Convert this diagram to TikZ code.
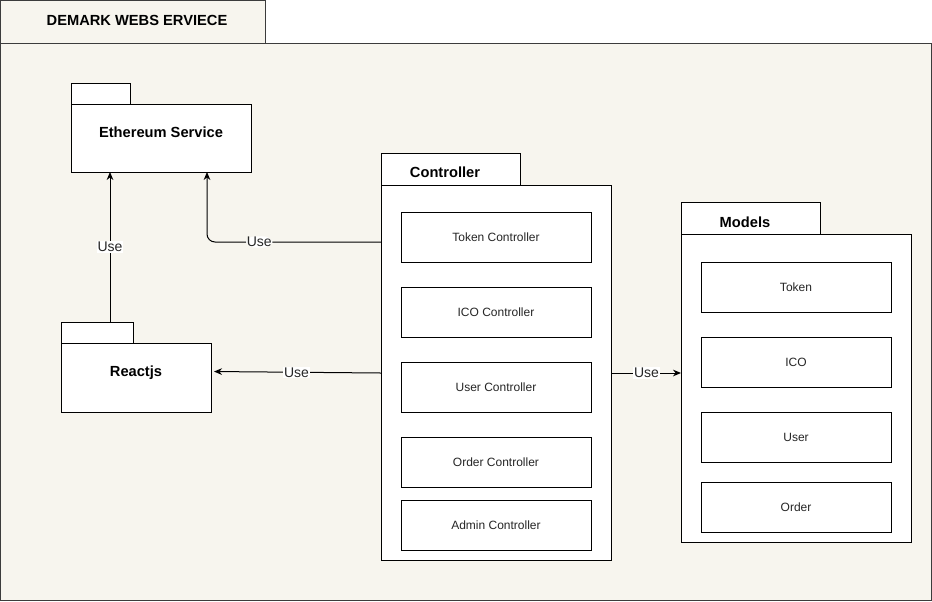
\documentclass[tikz,border=0pt]{standalone}
\usepackage{fontspec}
\setmainfont{Liberation Sans}
\usetikzlibrary{arrows.meta,positioning}
\definecolor{paper}{HTML}{F7F5EE}
\definecolor{frame}{HTML}{3C3C3C}
\tikzstyle{outerbox} = [rectangle, draw=frame, fill=paper, line width=0.75pt, anchor=north west, inner sep=0pt]
\tikzstyle{tabbox} = [rectangle, draw=black, fill=white, line width=0.75pt, anchor=north west, inner sep=0pt]
\tikzstyle{itembox} = [rectangle, draw=black, fill=white, line width=0.75pt, outer sep=0pt, minimum width=142.5pt, minimum height=37.5pt, anchor=north west, text=black!85, font=\fontsize{9}{11}\selectfont]
\tikzstyle{pkgtitle} = [font=\fontsize{11}{13}\selectfont\bfseries]
\tikzstyle{usearrow} = [line width=0.75pt, -{Stealth[length=6pt,width=5pt]}]
\tikzstyle{uselabel} = [fill=white, inner sep=0.5pt, text=black!85, font=\fontsize{10.5}{12}\selectfont]

\begin{document}
\begin{tikzpicture}[x=0.75pt, y=-0.75pt, node distance=18.75pt]
\fill[white] (0,0) rectangle (932,601);
\useasboundingbox (0,0) rectangle (932,601);

% service frame
\node (svc) [outerbox, minimum width=698.25pt, minimum height=417.75pt] at (0,43) {};
\node (svcTab) [outerbox, minimum width=198.75pt, minimum height=32.25pt] at (0,0) {};
\node (svcT) [pkgtitle] at (137,20) {DEMARK WEBS ERVIECE};

% ethereum
\node (ethTab) [tabbox, minimum width=44.25pt, minimum height=15.75pt] at (71,83) {};
\node (eth) [tabbox, minimum width=135pt, minimum height=51pt] at (71,104) {};
\node (ethT) [pkgtitle] at (161,132) {Ethereum Service};

% reactjs
\node (rctTab) [tabbox, minimum width=54pt, minimum height=15.75pt] at (61,322) {};
\node (rct) [tabbox, minimum width=112.5pt, minimum height=51.75pt] at (61,343) {};
\node (rctT) [pkgtitle] at (136,373) {Reactjs};

% controller
\node (ctlTab) [tabbox, minimum width=104.25pt, minimum height=24pt] at (381,153) {};
\node (ctl) [tabbox, minimum width=172.5pt, minimum height=281.25pt] at (381,185) {};
\node (ctlT) [pkgtitle] at (445,172) {Controller};
\node (ctlTok) [itembox] at (401,212) {Token Controller};
\node (ctlIco) [itembox, below=of ctlTok] {ICO Controller};
\node (ctlUsr) [itembox, below=of ctlIco] {User Controller};
\node (ctlOrd) [itembox, below=of ctlUsr] {Order Controller};
\node (ctlAdm) [itembox, below=9.75pt of ctlOrd] {Admin Controller};

% models
\node (modTab) [tabbox, minimum width=104.25pt, minimum height=24pt] at (681,202) {};
\node (mod) [tabbox, minimum width=172.5pt, minimum height=231pt] at (681,234) {};
\node (modT) [pkgtitle] at (745,222) {Models};
\node (modTok) [itembox] at (701,262) {Token};
\node (modIco) [itembox, below=of modTok] {ICO};
\node (modUsr) [itembox, below=of modIco] {User};
\node (modOrd) [itembox, below=15pt of modUsr] {Order};

% uses
\coordinate (ethIn1) at (110,172);
\coordinate (ethIn2) at (207,172);
\coordinate (ctlOut) at (381,242);
\draw [usearrow] (ethIn1 |- rctTab.north) -- node[uselabel] {Use} (ethIn1);
\draw [usearrow, rounded corners=6pt] (ctlOut) -| node[uselabel, pos=0.35] {Use} (ethIn2);
\draw [usearrow, shorten >=1.5pt] (ctl.west) -- node[uselabel] {Use} ([yshift=4.875pt]rct.east);
\draw [usearrow] (ctl.east) -- node[uselabel] {Use} (ctl.east -| mod.west);
\end{tikzpicture}
\end{document}
